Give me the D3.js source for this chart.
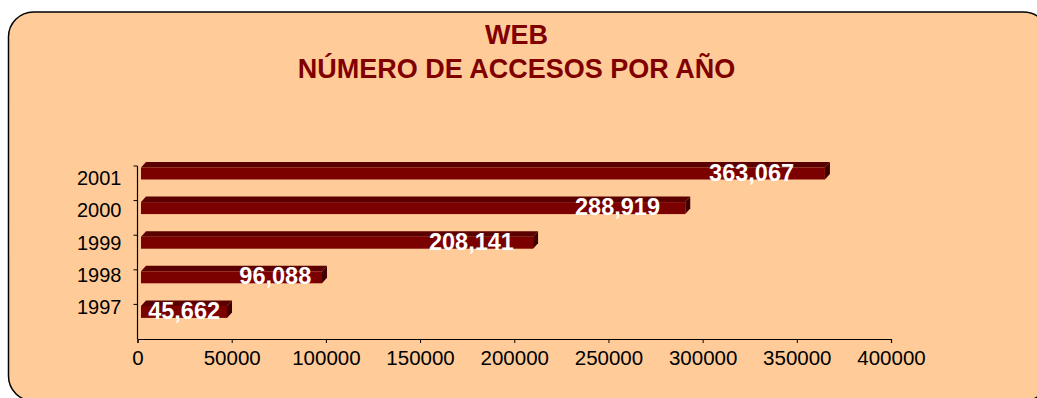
<!DOCTYPE html>
<html>
<head>
<meta charset="utf-8">
<script src="https://cdn.jsdelivr.net/npm/d3@7"></script>
<style>
  html, body { margin: 0; padding: 0; background: #ffffff; }
  svg { display: block; }
</style>
</head>
<body>
<svg id="chart" width="1037" height="398"></svg>
<script>
// Annual web access counts
const years = ["2001", "2000", "1999", "1998", "1997"];
const accesses = [363067, 288919, 208141, 96088, 45662];
const xTicks = [0, 50000, 100000, 150000, 200000, 250000, 300000, 350000, 400000];
const titleLines = ["WEB", "NÚMERO DE ACCESOS POR AÑO"];

const svg = d3.select("#chart");
const font = "'Liberation Sans', Arial, sans-serif";

// Rounded panel
svg.append("rect")
  .attr("x", 8.5).attr("y", 12)
  .attr("width", 1040).attr("height", 389)
  .attr("rx", 25).attr("ry", 25)
  .attr("fill", "#FFCC99")
  .attr("stroke", "#000").attr("stroke-width", 1.5);

// Title
svg.append("g").selectAll("text")
  .data(titleLines)
  .join("text")
  .attr("x", 516.5)
  .attr("y", (d, i) => 43.5 + i * 34.2)
  .attr("text-anchor", "middle")
  .attr("font-family", font)
  .attr("font-weight", "bold")
  .attr("font-size", 27)
  .attr("fill", "#800000")
  .text(d => d);

// Scales
const x = d3.scaleLinear().domain([0, 400000]).range([137.5, 891]);
const y = d3.scaleBand().domain(years).range([166, 339]).paddingInner(0).paddingOuter(0);
const yLabel = d3.scalePoint().domain(years).range([185, 314]);

// 3D bar geometry
const shift = 3.5;    // front face offset from plot edge
const depthX = 5, depthY = 5.5;
const frontTop = 1.5, frontH = 12;

const data = years.map((yr, i) => ({ yr, v: accesses[i] }));
const bars = svg.append("g");

data.forEach(d => {
  const x0 = x(0) + shift;
  const x1 = x(d.v) + shift;
  const yt = y(d.yr) + frontTop;
  const yb = yt + frontH;
  // top face
  bars.append("path")
    .attr("d", `M${x0},${yt}L${x1},${yt}L${x1 + depthX},${yt - depthY}L${x0 + depthX},${yt - depthY}Z`)
    .attr("fill", "#5a0000");
  // side face
  bars.append("path")
    .attr("d", `M${x1},${yt}L${x1 + depthX},${yt - depthY}L${x1 + depthX},${yb - depthY}L${x1},${yb}Z`)
    .attr("fill", "#400000");
  // front face
  bars.append("rect")
    .attr("x", x0).attr("y", yt)
    .attr("width", x1 - x0).attr("height", frontH)
    .attr("fill", "#7b0000");
});

// Axes
const axisColor = "#000";
const yAxis = svg.append("g");
yAxis.append("line")
  .attr("x1", x(0)).attr("x2", x(0))
  .attr("y1", y.range()[0]).attr("y2", y.range()[1])
  .attr("stroke", axisColor).attr("stroke-width", 1.2);
yAxis.selectAll(".tk")
  .data(years.map(yr => y(yr)))
  .join("line")
  .attr("x1", x(0) - 4).attr("x2", x(0))
  .attr("y1", d => d).attr("y2", d => d)
  .attr("stroke", axisColor).attr("stroke-width", 1);
yAxis.selectAll("text")
  .data(years)
  .join("text")
  .attr("x", 121.5)
  .attr("y", d => yLabel(d))
  .attr("text-anchor", "end")
  .attr("font-family", font)
  .attr("font-size", 20)
  .attr("fill", "#000")
  .text(d => d);

const xAxis = svg.append("g")
  .attr("transform", `translate(0,${y.range()[1]})`)
  .call(d3.axisBottom(x).tickValues(xTicks).tickFormat(d3.format("d")).tickSize(4).tickPadding(7));
xAxis.select(".domain").attr("stroke", axisColor).attr("stroke-width", 1.2);
xAxis.selectAll(".tick line").attr("stroke", axisColor);
xAxis.selectAll(".tick text")
  .attr("font-family", font)
  .attr("font-size", 20.5)
  .attr("fill", "#000");

// Value labels, set inside the bar end
svg.append("g").selectAll("text")
  .data(data)
  .join("text")
  .attr("x", d => x(d.v) - 0.04 * (x(d.v) - x(0)))
  .attr("y", d => y(d.yr) + frontTop + frontH + 1)
  .attr("text-anchor", "end")
  .attr("font-family", font)
  .attr("font-weight", "bold")
  .attr("font-size", 23.5)
  .attr("fill", "#ffffff")
  .text(d => d3.format(",")(d.v));
</script>
</body>
</html>
